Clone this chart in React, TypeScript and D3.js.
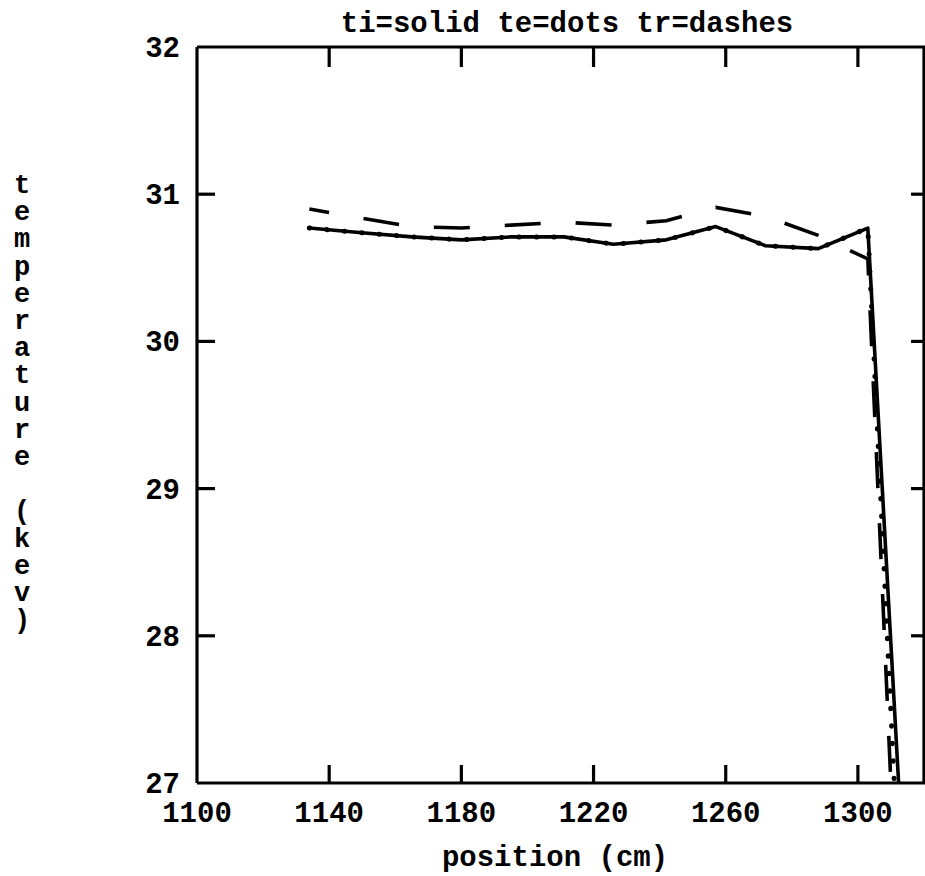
import React from "react";
import * as d3 from "d3";

const positions = [1134, 1149, 1165, 1180, 1195, 1211, 1226, 1242, 1257, 1272, 1288, 1303, 1318];
const ti = [30.77, 30.74, 30.71, 30.69, 30.71, 30.71, 30.66, 30.69, 30.78, 30.65, 30.63, 30.77, 24.7];
const te = [30.77, 30.74, 30.71, 30.69, 30.71, 30.71, 30.66, 30.69, 30.78, 30.65, 30.63, 30.77, 23.7];
const tr = [30.9, 30.84, 30.78, 30.77, 30.79, 30.81, 30.79, 30.82, 30.91, 30.85, 30.72, 30.56, 22.9];

const xTicks = [1100, 1140, 1180, 1220, 1260, 1300];
const yTicks = [27, 28, 29, 30, 31, 32];
const title = "ti=solid te=dots tr=dashes";
const xLabel = "position (cm)";
const yLabel = "temperature (kev)";

const W = 925;
const H = 876;
const FONT = "'Liberation Mono', 'Courier New', monospace";

export default function App() {
  const x = d3.scaleLinear().domain([1100, 1320]).range([197, 924]);
  const y = d3.scaleLinear().domain([27, 32]).range([783, 47]);
  const [x0, x1] = x.range();
  const [yb, yt] = y.range();

  const mk = (vals: number[]) =>
    d3
      .line<number>()
      .x((_, i) => x(positions[i]))
      .y((v) => y(v))(vals) || "";

  const innerX = xTicks.filter((t) => t > 1100);
  const innerY = yTicks.filter((t) => t > 27 && t < 32);

  return (
    <svg
      width={W}
      height={H}
      style={{ position: "absolute", left: 0, top: 0, background: "#fff" }}
    >
      <defs>
        <clipPath id="plot">
          <rect x={x0} y={yt} width={x1 - x0} height={yb - yt} />
        </clipPath>
      </defs>
      <rect x={0} y={0} width={W} height={H} fill="#fff" />

      {/* data */}
      <g clipPath="url(#plot)" fill="none" stroke="#000">
        <path
          d={mk(tr)}
          strokeWidth={3.6}
          strokeDasharray="36 35"
          strokeDashoffset={16}
        />
        <path d={mk(ti)} strokeWidth={3.6} strokeLinejoin="round" />
        <path
          d={mk(te)}
          strokeWidth={5}
          strokeDasharray="0.5 17"
          strokeLinecap="round"
        />
      </g>

      {/* frame */}
      <g stroke="#000" strokeWidth={3.2} fill="none">
        <line x1={x0} y1={yt} x2={x1 + 2} y2={yt} />
        <line x1={x0} y1={yb} x2={x1 + 2} y2={yb} />
        <line x1={x0} y1={yt} x2={x0} y2={yb} />
        <line x1={x1} y1={yt} x2={x1} y2={yb} />
        {innerX.map((t) => (
          <g key={"xt" + t}>
            <line x1={x(t)} y1={yt} x2={x(t)} y2={yt + 20} />
            <line x1={x(t)} y1={yb} x2={x(t)} y2={yb - 18} />
          </g>
        ))}
        {innerY.map((t) => (
          <g key={"yt" + t}>
            <line x1={x0} y1={y(t)} x2={x0 + 18} y2={y(t)} />
            <line x1={x1} y1={y(t)} x2={x1 - 13} y2={y(t)} />
          </g>
        ))}
      </g>

      {/* texts */}
      <g fontFamily={FONT} fontWeight="bold" fontSize={29} fill="#000">
        {xTicks.map((t) => (
          <text key={"xl" + t} x={x(t)} y={yb + 39} textAnchor="middle">
            {t}
          </text>
        ))}
        {yTicks.map((t) => (
          <text key={"yl" + t} x={x0 - 17} y={y(t) + 10} textAnchor="end">
            {t}
          </text>
        ))}
        <text x={567} y={32} textAnchor="middle">
          {title}
        </text>
        <text x={555} y={866} textAnchor="middle">
          {xLabel}
        </text>
        <text x={22} y={193} textAnchor="middle" fontSize={27}>
          {yLabel.split("").map((c, i) => (
            <tspan key={"yc" + i} x={22} dy={i === 0 ? 0 : 27.2}>
              {c === " " ? "\u00a0" : c}
            </tspan>
          ))}
        </text>
      </g>
    </svg>
  );
}
